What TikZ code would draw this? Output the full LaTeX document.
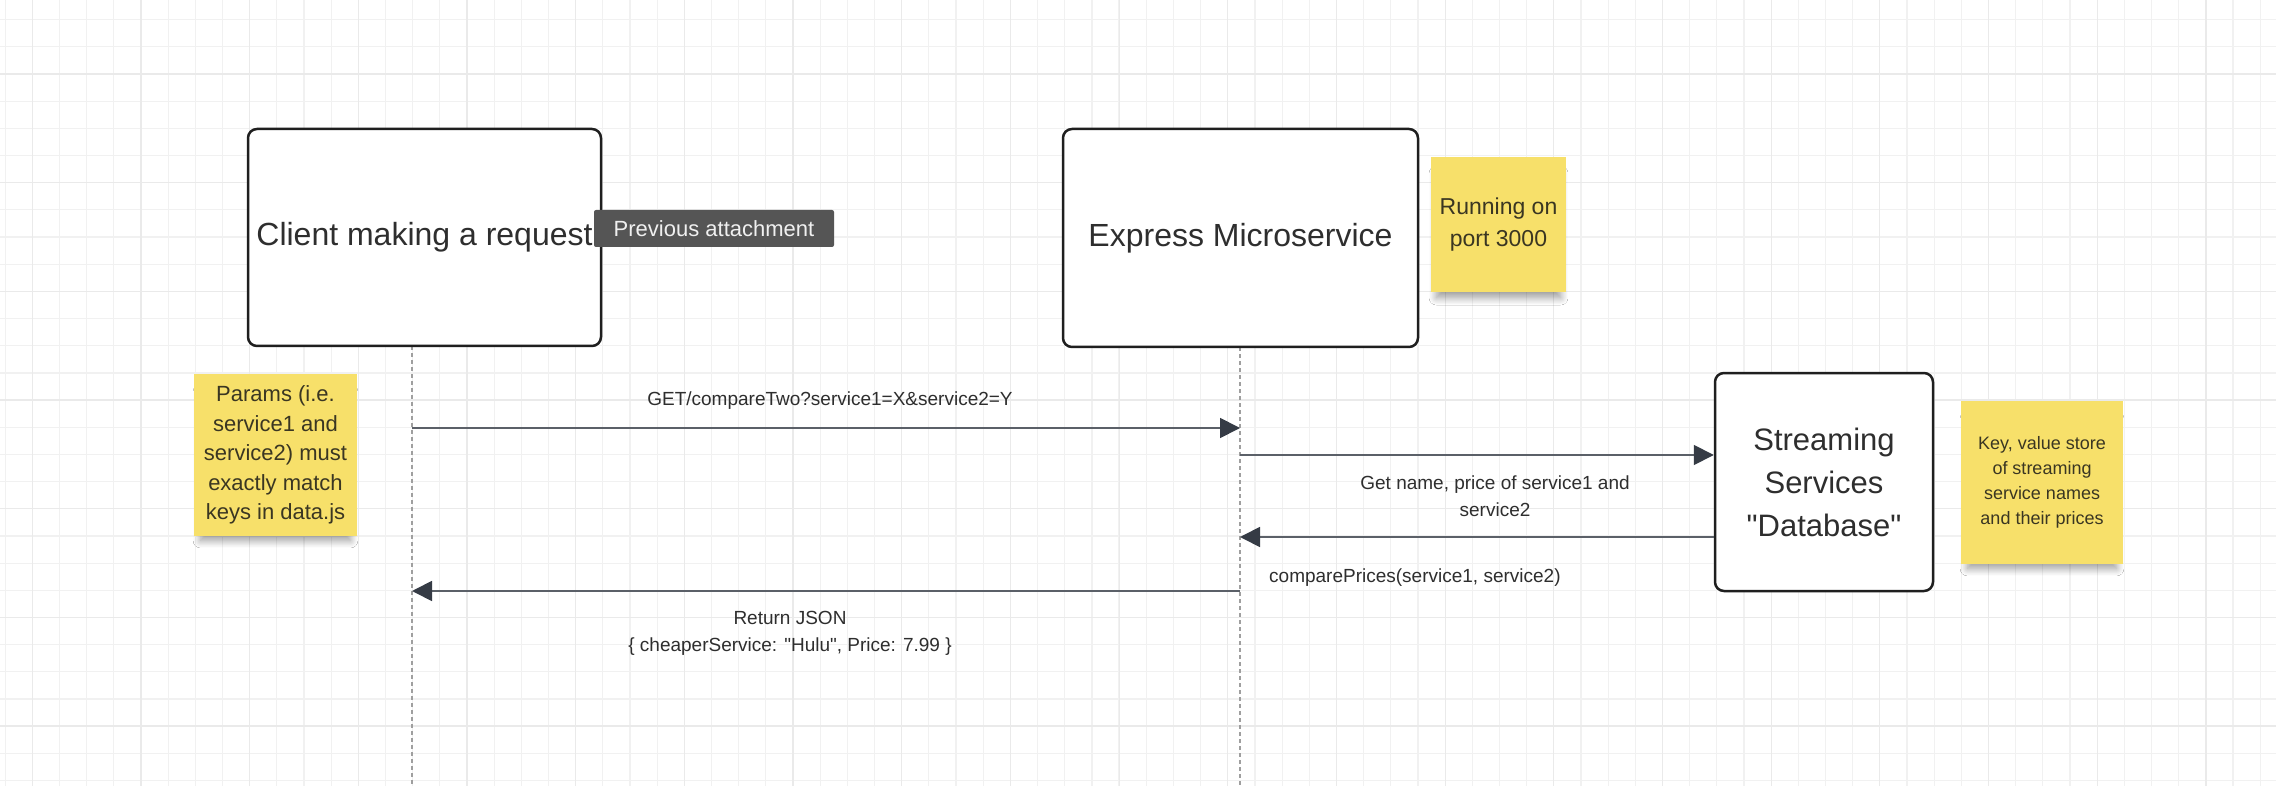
\documentclass[tikz,border=0pt]{standalone}
\usepackage{fontspec}
\setmainfont{Liberation Sans}[Ligatures=TeXOff]
\usetikzlibrary{arrows.meta,shadows.blur}
\definecolor{sticky}{HTML}{F7E06A}
\definecolor{gridminor}{HTML}{F1F1F1}
\definecolor{gridmajor}{HTML}{EAEAEA}
\definecolor{msgline}{HTML}{5B6068}
\definecolor{msgtip}{HTML}{353B45}
\definecolor{boxtext}{HTML}{2E2E2E}
\definecolor{notetext}{HTML}{3A3622}
\definecolor{tipfill}{HTML}{555555}

\begin{document}
\begin{tikzpicture}[x=1pt,y=-1pt,
  actor/.style={draw=black!88,line width=2.5pt,rounded corners=9pt,fill=white,text=boxtext,inner sep=0pt,align=center},
  note/.style={fill=sticky,text=notetext,align=center,inner sep=0pt,
    blur shadow={shadow xshift=0pt,shadow yshift=-12pt,shadow blur radius=8pt,shadow blur steps=14,shadow opacity=40,shadow scale=0.92}},
  msg/.style={draw=msgline,line width=1.8pt,-{Triangle[length=20pt,width=20pt,color=msgtip]}},
  msglabel/.style={text=boxtext,font=\fontsize{19}{27}\selectfont,align=center,inner sep=0pt},
  lifeline/.style={draw=gray!75,line width=1.5pt,dash pattern=on 4pt off 3pt}]
\useasboundingbox (0,0) rectangle (2276,786);
\fill[white] (0,0) rectangle (2276,786);

\foreach \i in {0,...,83} \draw[gridminor,line width=1.2pt] ({5.1+27.17*\i},0) -- ++(0,786);
\foreach \i in {0,...,28} \draw[gridminor,line width=1.2pt] (0,{19.7+27.17*\i}) -- ++(2276,0);
\foreach \i in {0,...,20} \draw[gridmajor,line width=1.2pt] ({32.3+108.68*\i},0) -- ++(0,786);
\foreach \i in {0,...,6} \draw[gridmajor,line width=1.2pt] (0,{74+108.68*\i}) -- ++(2276,0);

\coordinate (ctop) at (412,346);
\coordinate (cbot) at (412,786);
\coordinate (etop) at (1240,347);
\coordinate (ebot) at (1240,786);
\draw[lifeline] (ctop) -- (cbot);
\draw[lifeline] (etop) -- (ebot);

\node[actor,minimum width=353pt,minimum height=217pt,font=\fontsize{32}{38}\selectfont] (client) at (424.5,237.5) {Client making a request};
\node[actor,minimum width=355pt,minimum height=218pt,font=\fontsize{32}{38}\selectfont] (express) at (1240.5,238) {Express Microservice};
\node[actor,minimum width=218pt,minimum height=218pt,font=\fontsize{31}{43}\selectfont] (db) at (1824,482) {Streaming\\Services\\"Database"};

\node[fill=tipfill,text=white!94!black,rounded corners=2pt,minimum width=240pt,minimum height=37pt,inner sep=0pt,font=\fontsize{22}{26}\selectfont] (tooltip) at (714,228.5) {Previous attachment};

\node[note,minimum width=163pt,minimum height=162pt,font=\fontsize{22}{29.5}\selectfont] (params) at (275.5,455) {Params (i.e.\\service1 and\\service2) must\\exactly match\\keys in data.js};
\node[note,minimum width=135pt,minimum height=135pt,font=\fontsize{23}{32}\selectfont] (port) at (1498.5,224.5) {Running on\\port 3000};
\node[note,minimum width=162pt,minimum height=163pt,font=\fontsize{18}{25}\selectfont] (store) at (2042,482.5) {Key, value store\\of streaming\\service names\\and their prices};

\coordinate (c1) at (412,428);
\coordinate (e1) at (1240,428);
\coordinate (e2) at (1240,455);
\coordinate (e3) at (1240,537);
\coordinate (e4) at (1240,591);
\coordinate (c4) at (412,591);

\draw[msg] (c1) -- (e1);
\draw[msg] (e2) -- (e2 -| db.west);
\draw[msg] (e3 -| db.west) -- (e3);
\draw[msg] (e4) -- (c4);

\node[msglabel] (get) at (830,401) {GET/compareTwo?service1=X\&service2=Y};
\node[msglabel] (fetch) at (1495,496.5) {Get name, price of service1 and\\service2};
\node[msglabel,anchor=west] (compare) at (1269,578) {comparePrices(service1, service2)};
\node[msglabel] (reply) at (790,633.5) {Return JSON\\\{ cheaperService: "Hulu", Price: 7.99 \}};
\end{tikzpicture}
\end{document}
